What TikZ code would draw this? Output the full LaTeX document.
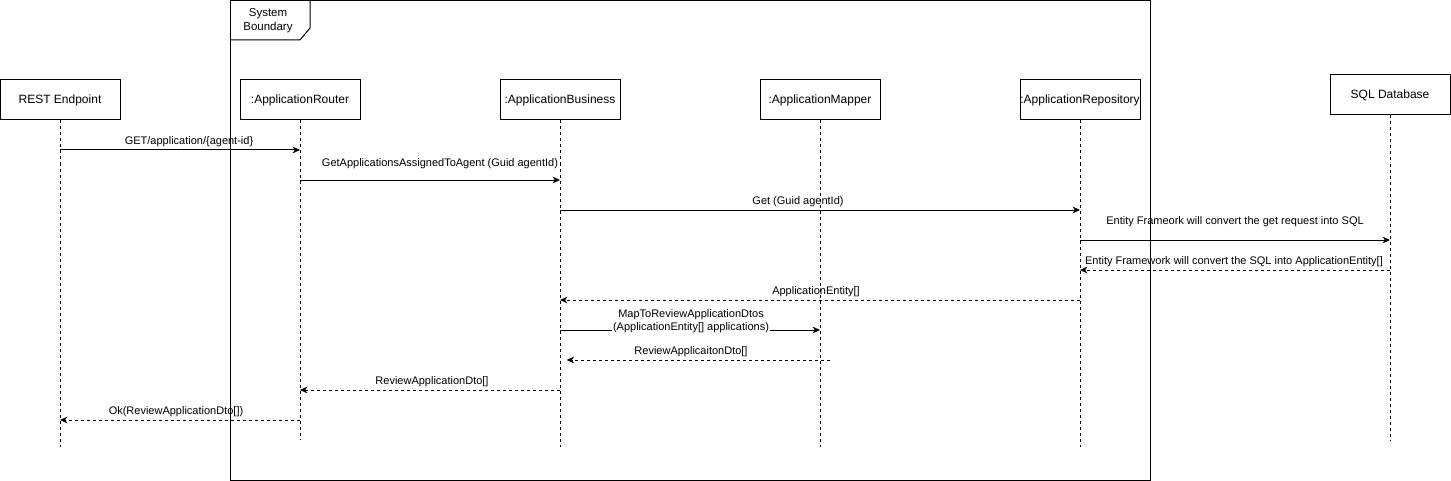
\documentclass[tikz,border=0pt]{standalone}
\usepackage{fontspec}
\setmainfont{Liberation Sans}
\usetikzlibrary{arrows.meta}
\begin{document}
\begin{tikzpicture}[x=0.75pt,y=-0.75pt,line width=0.75pt,
  lbl/.style={font=\fontsize{8.25}{9.5}\selectfont,inner sep=0.5pt,align=center},
  head/.style={draw,fill=white,minimum width=90pt,minimum height=30pt,inner sep=0pt,font=\fontsize{9}{10}\selectfont},
  life/.style={dash pattern=on 2.25pt off 2.25pt},
  msg/.style={-{Stealth[length=5.5pt,width=5pt,inset=1.6pt]}},
  ret/.style={msg,dash pattern=on 2.25pt off 2.25pt}]
\useasboundingbox (0,0) rectangle (1451,481);
% system boundary frame
\draw (230,0.5) rectangle (1150,480);
\draw (230,40) -- (300,40) -- (310,28) -- (310,0.5);
\node[lbl,align=center,font=\fontsize{8.6}{10.5}\selectfont] (sb) at (268,21) {System\\Boundary};
% lifeline heads
\node[head] (rest) at (60,100) {REST Endpoint};
\node[head] (router) at (300,100) {:ApplicationRouter};
\node[head] (bus) at (560,100) {:ApplicationBusiness};
\node[head] (map) at (820,100) {:ApplicationMapper};
\node[head] (repo) at (1080,100) {:ApplicationRepository};
\node[head] (sql) at (1390,95) {SQL Database};
% lifeline ends
\coordinate (restE) at (60,447);
\coordinate (routerE) at (300,440);
\coordinate (busE) at (560,447);
\coordinate (mapE) at (820,447);
\coordinate (repoE) at (1080,447);
\coordinate (sqlE) at (1390,441);
\draw[life] (rest.south) -- (restE);
\draw[life] (router.south) -- (routerE);
\draw[life] (bus.south) -- (busE);
\draw[life] (map.south) -- (mapE);
\draw[life] (repo.south) -- (repoE);
\draw[life] (sql.south) -- (sqlE);
% messages
\draw[msg] (rest |- 0,150) -- (router |- 0,150);
\node[lbl] (m1) at (189,142) {GET/application/\{agent-id\}};
\draw[msg] (router |- 0,180) -- (bus |- 0,180);
\node[lbl] (m2) at (440,164) {GetApplicationsAssignedToAgent (Guid agentId)};
\draw[msg] (bus |- 0,210) -- (repo |- 0,210);
\node[lbl] (m3) at (798,202) {Get (Guid agentId)};
\draw[msg] (repo |- 0,240) -- (sql |- 0,240);
\node[lbl] (m4) at (1235,222) {Entity Frameork will convert the get request into SQL};
\draw[ret] (sql |- 0,270) -- (repo |- 0,270);
\node[lbl] (m5) at (1234,262) {Entity Framework will convert the SQL into ApplicationEntity[]};
\draw[ret] (repo |- 0,300) -- (bus |- 0,300);
\node[lbl] (m6) at (816,292) {ApplicationEntity[]};
\draw[msg] (bus |- 0,330) -- (map |- 0,330);
\node[lbl,fill=white] (m7) at (691,321) {MapToReviewApplicationDtos\\(ApplicationEntity[] applications)};
\coordinate (mapR) at (830,360);
\draw[ret] (mapR) -- ([xshift=5]bus |- 0,360);
\node[lbl] (m8) at (691,352) {ReviewApplicaitonDto[]};
\draw[ret] (bus |- 0,390) -- (router |- 0,390);
\node[lbl] (m9) at (432,382) {ReviewApplicationDto[]};
\draw[ret] (router |- 0,420) -- (rest |- 0,420);
\node[lbl] (m10) at (176,412) {Ok(ReviewApplicationDto[])};
\end{tikzpicture}
\end{document}
